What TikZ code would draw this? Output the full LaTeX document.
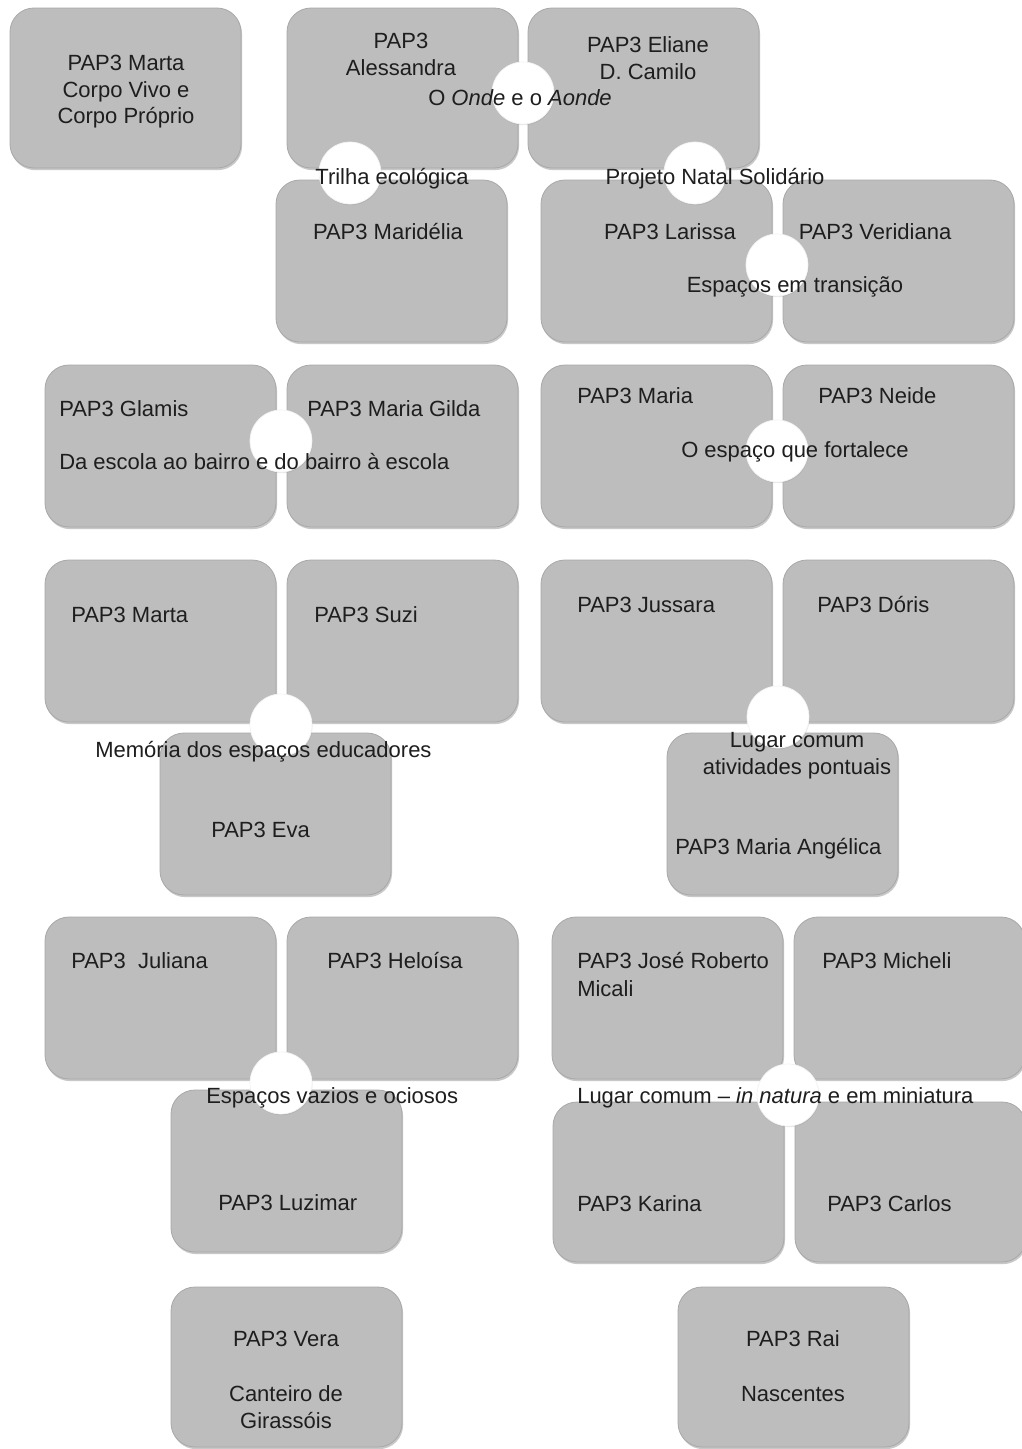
\documentclass[tikz,border=0pt]{standalone}
\usepackage{fontspec}
\setmainfont{Liberation Sans}
\usetikzlibrary{fit,shadows}
\definecolor{boxgray}{RGB}{189,189,189}
\definecolor{boxedge}{RGB}{168,168,168}
\definecolor{txt}{RGB}{30,30,30}
\tikzset{
  x=0.75pt, y=-0.75pt,
  gbox/.style={rectangle, rounded corners=18pt, fill=boxgray, draw=boxedge, line width=0.6pt, inner sep=0pt,
    drop shadow={opacity=0.3, shadow xshift=0.8pt, shadow yshift=-1.6pt, fill=black!70}},
  wcirc/.style={circle, minimum size=46.5pt, inner sep=0pt, fill=white, draw=black!5, line width=0.5pt,
    drop shadow={opacity=0.18, shadow xshift=0.4pt, shadow yshift=-0.9pt}},
  lbl/.style={inner sep=0pt, text=txt, font=\fontsize{16.5}{20.25}\selectfont},
  lc/.style={lbl, anchor=base},
  ll/.style={lbl, anchor=base west}
}
\newcommand{\gb}[5]{\node[gbox, fit={(#2,#3) (#4,#5)}] (#1) {};}
\begin{document}
\begin{tikzpicture}
\fill[white] (0,0) rectangle (1021,1449);
\useasboundingbox (0,0) rectangle (1021,1449);
% boxes
\gb{b1}{10}{8}{241}{168}
\gb{b2}{287}{8}{518}{168}
\gb{b3}{528}{8}{759}{168}
\gb{b4}{276}{180}{507}{342}
\gb{b5}{541}{180}{772}{342}
\gb{b6}{783}{180}{1014}{342}
\gb{b7}{45}{365}{276}{527}
\gb{b8}{287}{365}{518}{527}
\gb{b9}{541}{365}{772}{527}
\gb{b10}{783}{365}{1014}{527}
\gb{b11}{45}{560}{276}{722}
\gb{b12}{287}{560}{518}{722}
\gb{b13}{160}{733}{391}{895}
\gb{b14}{541}{560}{772}{722}
\gb{b15}{783}{560}{1014}{722}
\gb{b16}{667}{733}{898}{895}
\gb{b17}{45}{917}{276}{1079}
\gb{b18}{287}{917}{518}{1079}
\gb{b19}{171}{1090}{402}{1252}
\gb{b20}{552}{917}{783}{1079}
\gb{b21}{794}{917}{1025}{1079}
\gb{b22}{553}{1102}{784}{1262}
\gb{b23}{795}{1102}{1026}{1262}
\gb{b24}{171}{1287}{402}{1447}
\gb{b25}{678}{1287}{909}{1447}
% circles
\node[wcirc] (c1) at (523,93) {};
\node[wcirc] (c2) at (350,173) {};
\node[wcirc] (c3) at (695,173) {};
\node[wcirc] (c4) at (777,265) {};
\node[wcirc] (c5) at (281,441) {};
\node[wcirc] (c6) at (777,451) {};
\node[wcirc] (c7) at (281,725) {};
\node[wcirc] (c8) at (778,717) {};
\node[wcirc] (c9) at (281,1083) {};
\node[wcirc] (c10) at (788,1095) {};
% texts row 1
\node[lc] (t1) at (126,70) {PAP3 Marta};
\node[lc] (t2) at (126,97) {Corpo Vivo e};
\node[lc] (t3) at (126,123) {Corpo Próprio};
\node[lc] (t4) at (401,48) {PAP3};
\node[lc] (t5) at (401,75) {Alessandra};
\node[lc] (t6) at (648,52) {PAP3 Eliane};
\node[lc] (t7) at (648,79) {D. Camilo};
\node[lc] (t8) at (520,105) {O \textit{Onde} e o \textit{Aonde}};
\node[lc] (t9) at (392,184) {Trilha ecológica};
\node[lc] (t10) at (388,239) {PAP3 Maridélia};
\node[lc] (t11) at (715,184) {Projeto Natal Solidário};
\node[lc] (t12) at (670,239) {PAP3 Larissa};
\node[lc] (t13) at (875,239) {PAP3 Veridiana};
\node[lc] (t14) at (795,292) {Espaços em transição};
% row 2
\node[ll] (t15) at (59,416) {PAP3 Glamis};
\node[ll] (t16) at (307,416) {PAP3 Maria Gilda};
\node[ll] (t17) at (59,469) {Da escola ao bairro e do bairro à escola};
\node[ll] (t18) at (577,403) {PAP3 Maria};
\node[ll] (t19) at (818,403) {PAP3 Neide};
\node[ll] (t20) at (681,457) {O espaço que fortalece};
% row 3
\node[ll] (t21) at (71,622) {PAP3 Marta};
\node[ll] (t22) at (314,622) {PAP3 Suzi};
\node[ll] (t23) at (95,757) {Memória dos espaços educadores};
\node[ll] (t24) at (211,837) {PAP3 Eva};
\node[ll] (t25) at (577,612) {PAP3 Jussara};
\node[ll] (t26) at (817,612) {PAP3 Dóris};
\node[lc] (t27) at (797,747) {Lugar comum};
\node[lc] (t28) at (797,774) {atividades pontuais};
\node[ll] (t29) at (675,854) {PAP3 Maria Angélica};
% row 4
\node[ll] (t30) at (71,968) {PAP3\ \ Juliana};
\node[ll] (t31) at (327,968) {PAP3 Heloísa};
\node[ll] (t32) at (206,1103) {Espaços vazios e ociosos};
\node[ll] (t33) at (218,1210) {PAP3 Luzimar};
\node[ll] (t34) at (577,968) {PAP3 José Roberto};
\node[ll] (t35) at (577,996) {Micali};
\node[ll] (t36) at (822,968) {PAP3 Micheli};
\node[ll] (t37) at (577,1103) {Lugar comum – \textit{in natura} e em miniatura};
\node[ll] (t38) at (577,1211) {PAP3 Karina};
\node[ll] (t39) at (827,1211) {PAP3 Carlos};
% row 5
\node[lc] (t40) at (286,1346) {PAP3 Vera};
\node[lc] (t41) at (286,1401) {Canteiro de};
\node[lc] (t42) at (286,1428) {Girassóis};
\node[lc] (t43) at (793,1346) {PAP3 Rai};
\node[lc] (t44) at (793,1401) {Nascentes};
\end{tikzpicture}
\end{document}
